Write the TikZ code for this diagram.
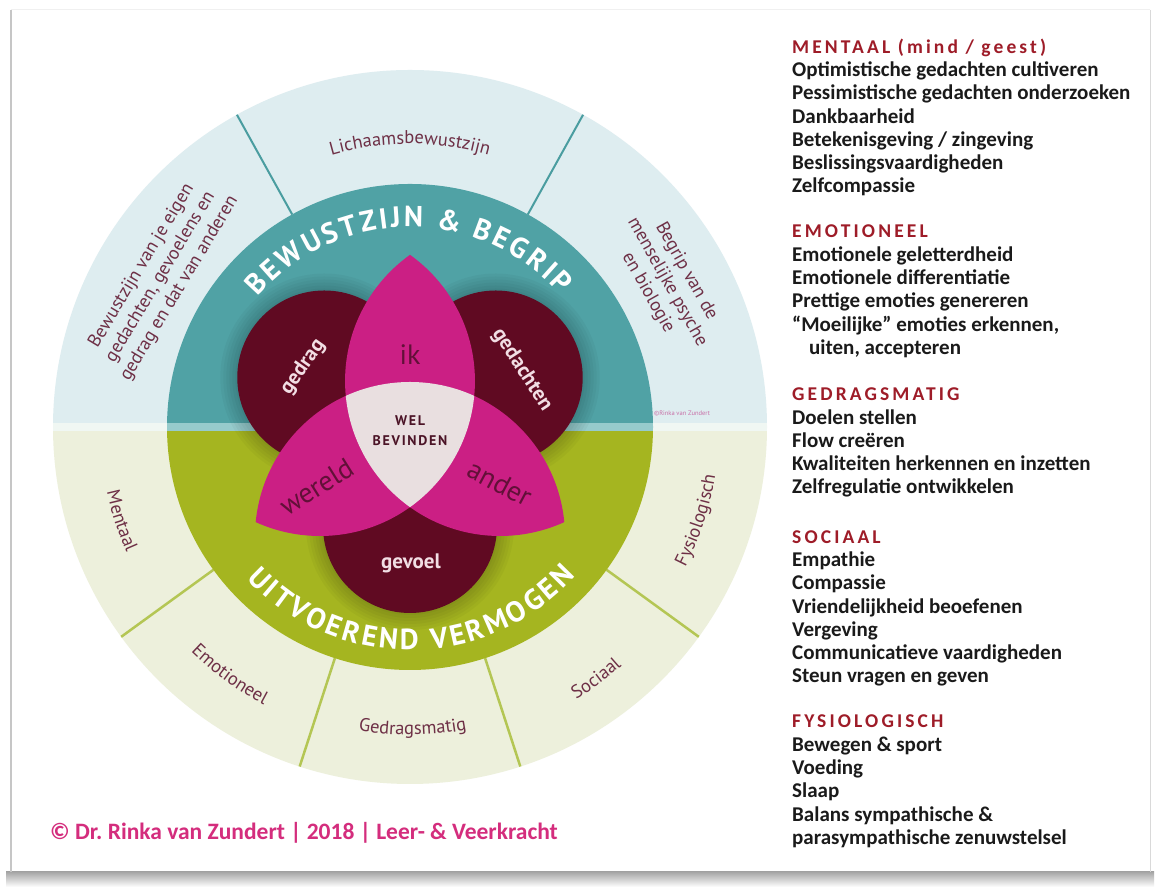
\documentclass[tikz,border=0pt]{standalone}
\usepackage{fontspec}
\setmainfont{Carlito}
\newfontfamily\dinfont{PT Sans}
\usetikzlibrary{decorations.text}
\definecolor{outerblue}{RGB}{222,237,240}
\definecolor{outercream}{RGB}{237,240,220}
\definecolor{bandlight}{RGB}{240,247,243}
\definecolor{ringteal}{RGB}{80,162,165}
\definecolor{bandteal}{RGB}{150,203,204}
\definecolor{ringolive}{RGB}{165,181,32}
\definecolor{tealline}{RGB}{74,157,160}
\definecolor{oliveline}{RGB}{180,198,84}
\definecolor{deepmaroon}{RGB}{96,10,34}
\definecolor{petalpink}{RGB}{203,31,132}
\definecolor{corepink}{RGB}{233,223,224}
\definecolor{sectxt}{RGB}{110,48,70}
\definecolor{circtxt}{RGB}{242,222,228}
\definecolor{petaltxt}{RGB}{98,16,56}
\definecolor{coretxt}{RGB}{75,19,38}
\definecolor{headred}{RGB}{158,28,40}
\definecolor{listtxt}{RGB}{26,26,26}
\definecolor{copypink}{RGB}{212,45,125}
\definecolor{watermark}{RGB}{200,110,166}

\newcommand\sectfont{\dinfont\fontsize{18.5}{22}\selectfont}
\newcommand\ringfont{\dinfont\bfseries\fontsize{29}{29}\selectfont}
\newcommand\listfont{\bfseries\fontsize{21}{23.3}\selectfont}
\newcommand\listhead[1]{{\color{headred}\addfontfeature{LetterSpace=16}\fontsize{19.5}{23.3}\selectfont #1}}

\tikzset{
  arclabel/.style={decorate, decoration={text along path, text color=sectxt,
      text align=center, text={|\sectfont|#1}}},
  ringlabel/.style={decorate, decoration={text along path, text color=white,
      text align={fit to path}, text={|\ringfont|#1}}},
  sectortext/.style={text=sectxt, font=\sectfont, align=center, inner sep=0},
  circletext/.style={text=circtxt, font=\dinfont\bfseries\fontsize{21}{21}\selectfont, inner sep=0},
  petaltext/.style={text=petaltxt, font=\dinfont\fontsize{28}{28}\selectfont, inner sep=0},
  % base anchor of a block = baseline of its last line
  listblock/.style={anchor=base west, align=left, inner sep=0, text=listtxt, font=\listfont}
}

\begin{document}
\begin{tikzpicture}[x=1pt, y=1pt]
\useasboundingbox (0,0) rectangle (1157,890);
% card and its shadow
\fill[white] (0,0) rectangle (1157,890);
\shade[top color=gray!70, bottom color=white] (6,3) rectangle (1154,18);
\draw[gray!45, line width=1.5] (11,18) -- (11,880);
\draw[gray!12, line width=1] (11,880) -- (1150,880);
\draw[gray!30, line width=1] (1150,880) -- (1150,18);

\coordinate (C) at (410,463);
\coordinate (V) at (410,457);

% outer ring
\begin{scope}
  \clip (C) circle (357);
  \fill[outerblue]  (40,467) rectangle (780,830);
  \fill[bandlight]  (40,459) rectangle (780,467);
  \fill[outercream] (40,100) rectangle (780,459);
\end{scope}
\foreach \a in {61,119}
  \draw[tealline, line width=2] ([shift={(\a:243)}]C) -- ([shift={(\a:357)}]C);
\foreach \a in {216,252,288,324}
  \draw[oliveline, line width=2.5] ([shift={(\a:243)}]C) -- ([shift={(\a:357)}]C);

% middle ring
\begin{scope}
  \clip (C) circle (243);
  \fill[ringteal]  (160,467) rectangle (660,710);
  \fill[bandteal]  (160,459) rectangle (660,467);
  \fill[ringolive] (160,215) rectangle (660,459);
\end{scope}

% maroon circles, with a soft shadow on the ring
\coordinate (gedragC)    at ([shift={(150:99)}]C);
\coordinate (gedachtenC) at ([shift={(30:99)}]C);
\coordinate (gevoelC)    at ([shift={(270:99)}]C);
\begin{scope}
  \clip (C) circle (243);
  \foreach \r in {89,92,...,104} {
    \fill[black, opacity=0.03] (gedragC) circle (\r);
    \fill[black, opacity=0.03] (gedachtenC) circle (\r);
    \fill[black, opacity=0.03] (gevoelC) circle (\r);
  }
\end{scope}
\fill[deepmaroon] (gedragC) circle (87);
\fill[deepmaroon] (gedachtenC) circle (87);
\fill[deepmaroon] (gevoelC) circle (87);

% petals
\coordinate (mL) at ([shift={(150:104)}]V);
\coordinate (mR) at ([shift={(30:104)}]V);
\coordinate (mB) at ([shift={(270:104)}]V);
\begin{scope}
  \clip (mL) circle (155);
  \fill[petalpink] (mR) circle (155);
  \fill[petalpink] (mB) circle (155);
\end{scope}
\begin{scope}
  \clip (mR) circle (155);
  \fill[petalpink] (mB) circle (155);
\end{scope}
\begin{scope}
  \clip (mL) circle (155);
  \clip (mR) circle (155);
  \fill[corepink] (mB) circle (155);
\end{scope}

% venn texts
\node[petaltext] (ik) at (410,535) {ik};
\node[petaltext, rotate=32] (wereld) at (317,403) {wereld};
\node[petaltext, rotate=-28] (ander) at (500,407) {ander};
\node[circletext, rotate=55] (gedrag) at (303,523) {gedrag};
\node[circletext, rotate=-57] (gedachten) at (522,520) {gedachten};
\node[circletext] (gevoel) at (411,327) {gevoel};
\node[text=coretxt, align=center, inner sep=0,
      font=\dinfont\bfseries\addfontfeature{LetterSpace=12}\fontsize{14}{20}\selectfont]
      (welbevinden) at (410,459) {WEL\\BEVINDEN};

% ring texts
\path[ringlabel={BEWUSTZIJN {\&} BEGRIP}]
  ([shift={(139.5:200)}]C) arc[start angle=139.5, end angle=41.5, radius=200];
\path[ringlabel={UITVOEREND VERMOGEN}]
  ([shift={(223:223)}]C) arc[start angle=223, end angle=318, radius=223];

% sector texts
\path[arclabel=Lichaamsbewustzijn]
  ([shift={(118:283)}]C) arc[start angle=118, end angle=62, radius=283];
\node[sectortext, rotate=59] (eigen) at ([shift={(149:291)}]C)
  {Bewustzijn van je eigen\\gedachten, gevoelens en\\gedrag en dat van anderen};
\node[sectortext, rotate=-60.6] (psyche) at ([shift={(29.4:295)}]C)
  {Begrip van de\\menselijke psyche\\en biologie};
\path[arclabel=Mentaal]
  ([shift={(181:310)}]C) arc[start angle=181, end angle=215, radius=310];
\path[arclabel=Emotioneel]
  ([shift={(217:314)}]C) arc[start angle=217, end angle=251, radius=314];
\path[arclabel=Gedragsmatig]
  ([shift={(253:308)}]C) arc[start angle=253, end angle=288, radius=308];
\path[arclabel=Sociaal]
  ([shift={(289:319)}]C) arc[start angle=289, end angle=324, radius=319];
\path[arclabel=Fysiologisch]
  ([shift={(325:309)}]C) arc[start angle=325, end angle=359, radius=309];
\node[text=watermark, font=\dinfont\fontsize{6.5}{7}\selectfont] (mark) at (682,477) {©Rinka van Zundert};

% lists
\node[listblock] (mentaal) at (792,697) {\listhead{MENTAAL (mind / geest)}\\
  Optimistische gedachten cultiveren\\
  Pessimistische gedachten onderzoeken\\
  Dankbaarheid\\
  Betekenisgeving / zingeving\\
  Beslissingsvaardigheden\\
  Zelfcompassie};
\node[listblock] (emotioneel) at (792,535.5) {\listhead{EMOTIONEEL}\\
  Emotionele geletterdheid\\
  Emotionele differentiatie\\
  Prettige emoties genereren\\
  “Moeilijke” emoties erkennen,\\
  \hspace*{17pt}uiten, accepteren};
\node[listblock] (gedragsmatig) at (792,396) {\listhead{GEDRAGSMATIG}\\
  Doelen stellen\\
  Flow creëren\\
  Kwaliteiten herkennen en inzetten\\
  Zelfregulatie ontwikkelen};
\node[listblock] (sociaal) at (792,207) {\listhead{SOCIAAL}\\
  Empathie\\
  Compassie\\
  Vriendelijkheid beoefenen\\
  Vergeving\\
  Communicatieve vaardigheden\\
  Steun vragen en geven};
\node[listblock] (fysiologisch) at (792,45.5) {\listhead{FYSIOLOGISCH}\\
  Bewegen \& sport\\
  Voeding\\
  Slaap\\
  Balans sympathische \&\\
  parasympathische zenuwstelsel};

\node[anchor=base west, inner sep=0, text=copypink, font=\bfseries\fontsize{23.5}{23.5}\selectfont]
  (copyright) at (50,50) {© Dr.\ Rinka van Zundert | 2018 | Leer- \& Veerkracht};
\end{tikzpicture}
\end{document}
